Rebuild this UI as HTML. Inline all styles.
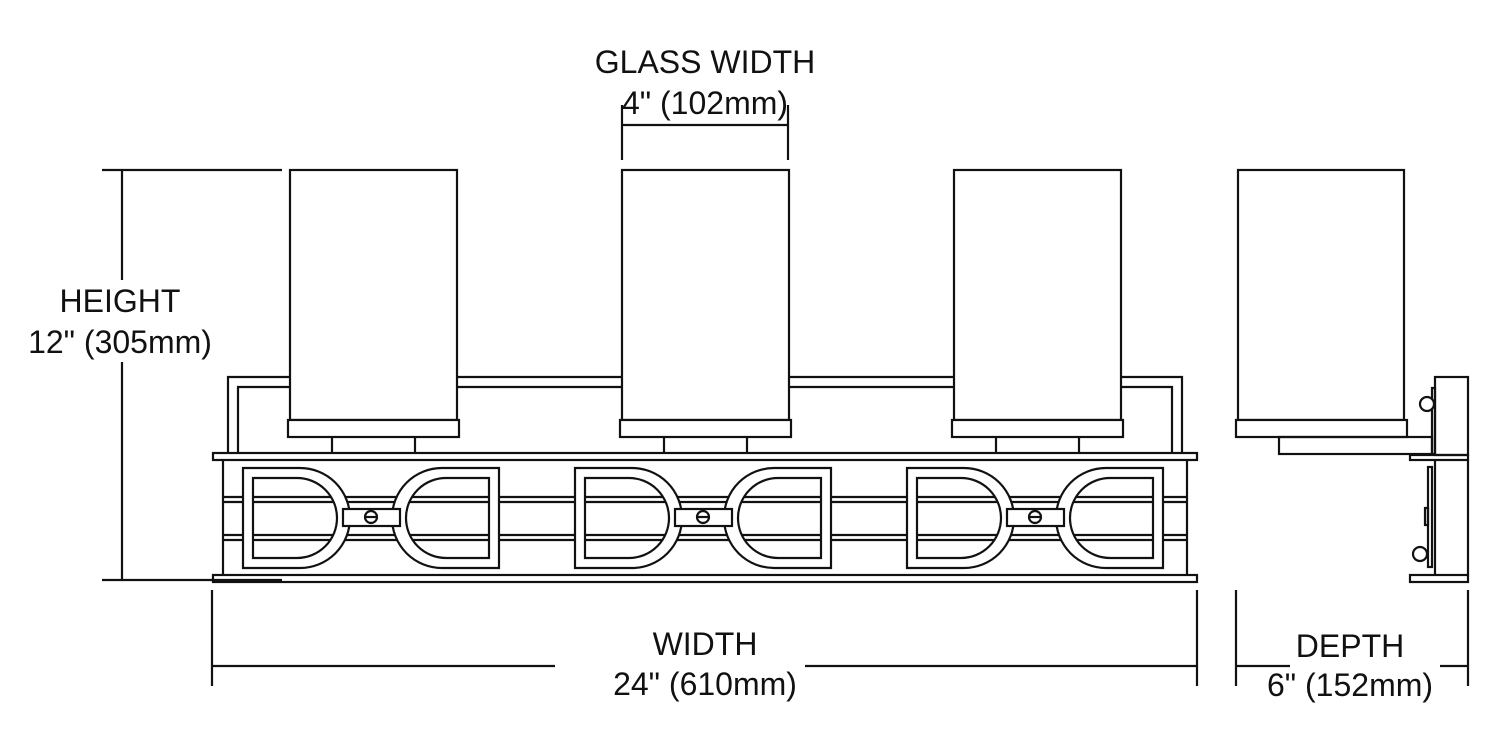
<!DOCTYPE html>
<html><head><meta charset="utf-8"><style>
html,body{margin:0;padding:0;background:#fff;}
svg{display:block;}
text{font-family:"Liberation Sans",Arial,sans-serif;font-size:32px;fill:#111;text-anchor:middle;}
</style></head><body>
<svg width="1500" height="755" viewBox="0 0 1500 755" xmlns="http://www.w3.org/2000/svg">
<g fill="none" stroke="#111" stroke-width="2.2">
<path d="M228,453 V377 H1182 V453"/>
<path d="M238,453 V387 H1172 V453"/>
<rect x="213" y="453" width="984" height="7" fill="#fff"/>
<rect x="213" y="575" width="984" height="7" fill="#fff"/>
<line x1="223" y1="460" x2="223" y2="575"/>
<line x1="1187" y1="460" x2="1187" y2="575"/>
<line x1="223" y1="497" x2="1187" y2="497"/>
<line x1="223" y1="502" x2="1187" y2="502"/>
<line x1="223" y1="535" x2="1187" y2="535"/>
<line x1="223" y1="540" x2="1187" y2="540"/>
</g>
<g id="u" fill="none" stroke="#111" stroke-width="2.2">
<rect x="290" y="170" width="167" height="250" fill="#fff"/>
<rect x="288" y="420" width="171" height="17" fill="#fff"/>
<line x1="332" y1="437" x2="332" y2="453"/>
<line x1="415" y1="437" x2="415" y2="453"/>
<path fill="#fff" fill-rule="evenodd" d="M243,468 H300 A50,50 0 0 1 300,568 H243 Z M253,478 H297 A40,40 0 0 1 297,558 H253 Z"/>
<path fill="#fff" fill-rule="evenodd" d="M499,468 H442 A50,50 0 0 0 442,568 H499 Z M489,478 H446 A40,40 0 0 0 446,558 H489 Z"/>
<rect x="343" y="509" width="57" height="17" fill="#fff"/>
<circle cx="371" cy="517" r="6" fill="#fff"/>
<line x1="365" y1="517" x2="377" y2="517"/>
</g>
<use href="#u" transform="translate(332,0)"/>
<use href="#u" transform="translate(664,0)"/>
<g fill="none" stroke="#111" stroke-width="2.2">
<rect x="1238" y="170" width="166" height="250" fill="#fff"/>
<rect x="1236" y="420" width="171" height="17" fill="#fff"/>
<rect x="1279" y="437" width="153" height="17"/>
<rect x="1435" y="377" width="33" height="78"/>
<rect x="1432" y="388" width="3" height="66"/>
<circle cx="1427" cy="404" r="7" fill="#fff"/>
<rect x="1410" y="455" width="58" height="5"/>
<line x1="1435" y1="460" x2="1435" y2="575"/>
<line x1="1468" y1="460" x2="1468" y2="575"/>
<rect x="1428" y="467" width="4" height="100"/>
<rect x="1425" y="508" width="3" height="17"/>
<circle cx="1420" cy="554" r="7" fill="#fff"/>
<rect x="1410" y="575" width="58" height="7"/>
</g>
<g stroke="#111" stroke-width="2.2" fill="none">
<line x1="102" y1="170" x2="282" y2="170"/>
<line x1="102" y1="580" x2="282" y2="580"/>
<line x1="122" y1="170" x2="122" y2="280"/>
<line x1="122" y1="362" x2="122" y2="580"/>
<line x1="622" y1="105" x2="622" y2="160"/>
<line x1="788" y1="105" x2="788" y2="160"/>
<line x1="622" y1="125" x2="788" y2="125"/>
<line x1="212" y1="590" x2="212" y2="686"/>
<line x1="1197" y1="590" x2="1197" y2="686"/>
<line x1="212" y1="666" x2="555" y2="666"/>
<line x1="805" y1="666" x2="1197" y2="666"/>
<line x1="1236" y1="590" x2="1236" y2="686"/>
<line x1="1468" y1="590" x2="1468" y2="686"/>
<line x1="1236" y1="666" x2="1290" y2="666"/>
<line x1="1440" y1="666" x2="1468" y2="666"/>
</g>
<text x="705" y="73">GLASS WIDTH</text>
<text x="705" y="114">4" (102mm)</text>
<text x="120" y="312">HEIGHT</text>
<text x="120" y="353">12" (305mm)</text>
<text x="705" y="655">WIDTH</text>
<text x="705" y="695">24" (610mm)</text>
<text x="1350" y="657">DEPTH</text>
<text x="1350" y="696">6" (152mm)</text>
</svg>
</body></html>
